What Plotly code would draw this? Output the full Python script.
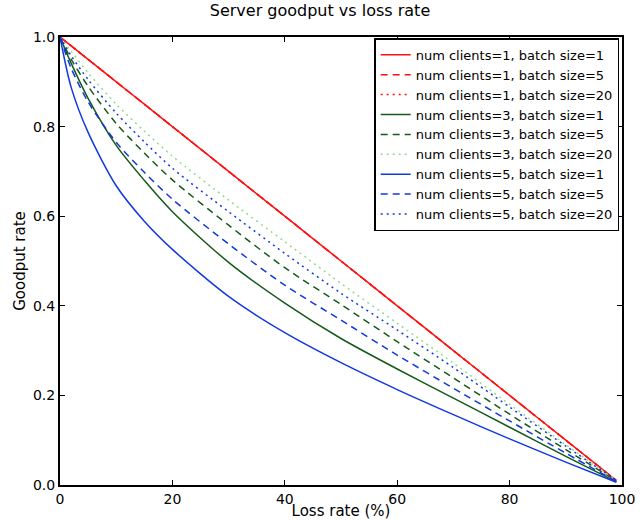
import plotly.graph_objects as go

loss = [0, 2, 5, 10, 15, 20, 30, 40, 50, 60, 70, 80, 90, 99]

c1_b1 = [1.0, 0.98, 0.95, 0.90, 0.85, 0.80, 0.70, 0.60, 0.50, 0.40, 0.30, 0.20, 0.10, 0.01]
c1_b5 = [1.0, 0.98, 0.95, 0.90, 0.85, 0.80, 0.70, 0.60, 0.50, 0.40, 0.30, 0.20, 0.10, 0.01]
c1_b20 = [1.0, 0.98, 0.95, 0.90, 0.85, 0.80, 0.70, 0.60, 0.50, 0.40, 0.30, 0.20, 0.10, 0.01]
c3_b1 = [1.0, 0.941, 0.863, 0.758, 0.680, 0.610, 0.497, 0.406, 0.327, 0.259, 0.194, 0.129, 0.064, 0.007]
c3_b5 = [1.0, 0.950, 0.890, 0.807, 0.741, 0.681, 0.580, 0.485, 0.403, 0.320, 0.239, 0.158, 0.079, 0.009]
c3_b20 = [1.0, 0.968, 0.920, 0.850, 0.790, 0.734, 0.636, 0.543, 0.450, 0.361, 0.272, 0.180, 0.090, 0.010]
c5_b1 = [1.0, 0.887, 0.787, 0.668, 0.589, 0.526, 0.421, 0.340, 0.273, 0.213, 0.157, 0.103, 0.051, 0.006]
c5_b5 = [1.0, 0.930, 0.855, 0.765, 0.698, 0.638, 0.538, 0.446, 0.368, 0.290, 0.216, 0.143, 0.071, 0.008]
c5_b20 = [1.0, 0.958, 0.905, 0.830, 0.766, 0.707, 0.610, 0.517, 0.428, 0.346, 0.262, 0.174, 0.087, 0.010]

x_ticks = [0, 20, 40, 60, 80, 100]
y_ticks = [0.0, 0.2, 0.4, 0.6, 0.8, 1.0]

RED = "#ff1010"
GREEN = "#145a18"
LGREEN = "#8fdc8f"
BLUE = "#1238e0"

DASH = "7px,5px"
DOT = "2px,4px"

series = [
    ("num clients=1, batch size=1", c1_b1, RED, "solid"),
    ("num clients=1, batch size=5", c1_b5, RED, DASH),
    ("num clients=1, batch size=20", c1_b20, RED, DOT),
    ("num clients=3, batch size=1", c3_b1, GREEN, "solid"),
    ("num clients=3, batch size=5", c3_b5, GREEN, DASH),
    ("num clients=3, batch size=20", c3_b20, LGREEN, DOT),
    ("num clients=5, batch size=1", c5_b1, BLUE, "solid"),
    ("num clients=5, batch size=5", c5_b5, BLUE, DASH),
    ("num clients=5, batch size=20", c5_b20, BLUE, DOT),
]

fig = go.Figure()
for name, ys, col, dash in series:
    fig.add_trace(go.Scatter(
        x=loss, y=ys, name=name, mode="lines",
        line=dict(color=col, dash=dash, width=1.5, shape="spline", smoothing=0.8),
    ))

axis_common = dict(
    showgrid=False, zeroline=False, showline=True, linecolor="black", linewidth=2,
    mirror="ticks", ticks="inside", ticklen=5, tickwidth=1, tickcolor="black",
    tickfont=dict(family="DejaVu Sans", size=14, color="black"),
    automargin=False,
)

fig.update_layout(
    width=640, height=520,
    margin=dict(l=60, r=18, t=37, b=35),
    paper_bgcolor="white", plot_bgcolor="white",
    font=dict(family="DejaVu Sans", color="black"),
    title=dict(text="Server goodput vs loss rate", x=0.5, xanchor="center",
               y=1.0, yanchor="top", pad=dict(t=5),
               font=dict(size=16, color="black")),
    xaxis=dict(range=[0, 100], tickvals=x_ticks, ticktext=[str(v) for v in x_ticks],
               title=dict(text="Loss rate (%)", font=dict(size=15), standoff=0), **axis_common),
    yaxis=dict(range=[0, 1], tickvals=y_ticks, ticktext=[f"{v:.1f}" for v in y_ticks],
               title=dict(text="Goodput rate", font=dict(size=15), standoff=4), **axis_common),
    legend=dict(x=0.995, xanchor="right", y=0.997, yanchor="top",
                bgcolor="white", bordercolor="black", borderwidth=1.5,
                font=dict(size=13, color="black"), tracegroupgap=0,
                itemwidth=30),
    showlegend=True,
)

fig.write_html("out.html", config={"displayModeBar": False},
               post_script="document.body.style.margin='0';")
